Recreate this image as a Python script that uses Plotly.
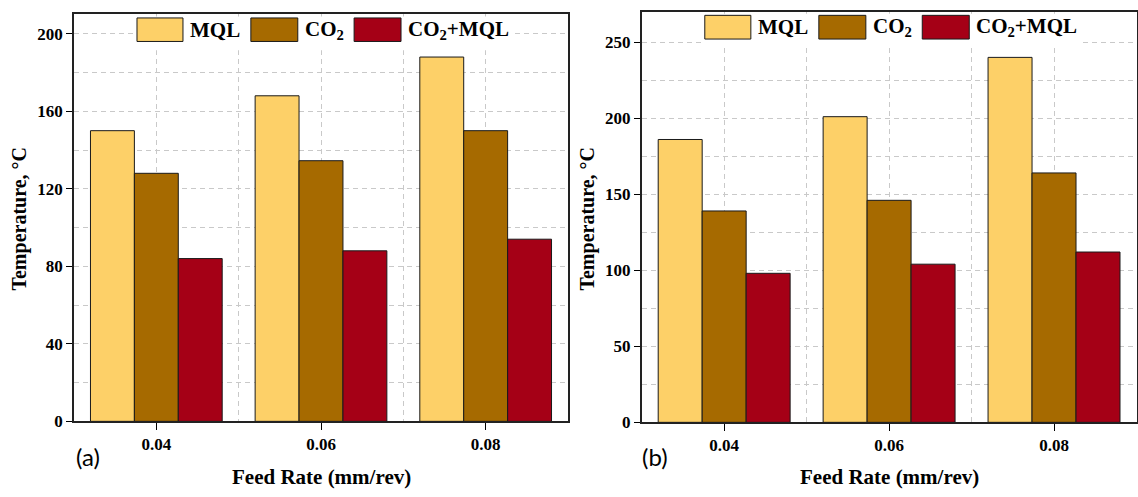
import plotly.graph_objects as go

# ---------------- data ----------------
feed_rates = ["0.04", "0.06", "0.08"]
series_names = ["MQL", "CO<sub>2</sub>", "CO<sub>2</sub>+MQL"]

a_mql = [150, 168, 188]
a_co2 = [128, 134.5, 150]
a_co2_mql = [84, 88, 94]

b_mql = [186, 201, 240]
b_co2 = [139, 146, 164]
b_co2_mql = [98, 104, 112]

panel_labels = ["(a)", "(b)"]
x_title = "Feed Rate (mm/rev)"
y_title = "Temperature, °C"

# ---------------- style ----------------
colors = ["#FDD068", "#A66A00", "#A50016"]
W, H = 1138, 497
SERIF = "Liberation Serif"
GRID = "#c9c9c9"
GRIDDASH = "5px,4px"

x_pos = list(range(len(feed_rates)))

fig = go.Figure()
panels = [
    ("x", "y", [a_mql, a_co2, a_co2_mql]),
    ("x2", "y2", [b_mql, b_co2, b_co2_mql]),
]
for xa, ya, series in panels:
    for vals, name, col in zip(series, series_names, colors):
        fig.add_trace(go.Bar(
            x=x_pos, y=vals, name=name, xaxis=xa, yaxis=ya,
            marker=dict(color=col, line=dict(color="#1a1a1a", width=1)),
            showlegend=False,
        ))

def px_x(v):
    return v / W

def px_y(v):
    return (H - v) / H

common_x = dict(
    range=[-0.5, 2.5], tickmode="array", tickvals=x_pos, ticktext=feed_rates,
    ticks="outside", ticklen=7, tickwidth=1.2, tickcolor="black",
    showline=True, linecolor="#222", linewidth=1.5, mirror=True,
    showgrid=True, gridcolor=GRID, griddash=GRIDDASH, gridwidth=1,
    minor=dict(dtick=0.5, tick0=0.5, showgrid=True, gridcolor=GRID,
               griddash=GRIDDASH, ticks=""),
    tickfont=dict(family=SERIF, size=17, color="black", weight="bold"),
    zeroline=False, fixedrange=True,
)
common_y = dict(
    ticks="outside", ticklen=6, tickwidth=1.2, tickcolor="black",
    showline=True, linecolor="#222", linewidth=1.5, mirror=True,
    showgrid=True, gridcolor=GRID, griddash=GRIDDASH, gridwidth=1,
    tickfont=dict(family=SERIF, size=17, color="black", weight="bold"),
    zeroline=False, fixedrange=True,
)

fig.update_layout(
    width=W, height=H,
    margin=dict(l=0, r=0, t=0, b=0),
    paper_bgcolor="white", plot_bgcolor="white",
    barmode="group", bargap=0.2, bargroupgap=0,
    xaxis=dict(common_x, domain=[px_x(74), px_x(568)], anchor="y"),
    yaxis=dict(common_y, domain=[px_y(430), px_y(14.7)], anchor="x",
               range=[0, 210], tick0=0, dtick=40,
               minor=dict(dtick=20, showgrid=True, gridcolor=GRID,
                          griddash=GRIDDASH, ticks="")),
    xaxis2=dict(common_x, domain=[px_x(641.7), px_x(1136.5)], anchor="y2"),
    yaxis2=dict(common_y, domain=[px_y(431), px_y(12)], anchor="x2",
                range=[0, 270], tick0=0, dtick=50,
                minor=dict(dtick=25, showgrid=True, gridcolor=GRID,
                           griddash=GRIDDASH, ticks="")),
    showlegend=False,
)

# ---------------- custom legends (large swatches) ----------------
shapes = []
annotations = []
sw_x = [(0.1275, 0.2206), (0.358, 0.453), (0.567, 0.662)]
txt_x = [0.231, 0.464, 0.672]
for xa, ya in [("x", "y"), ("x2", "y2")]:
    shapes.append(dict(type="rect", xref=f"{xa} domain", yref=f"{ya} domain",
                       x0=0.12, x1=0.885, y0=0.912, y1=0.995,
                       fillcolor="white", line=dict(width=0), layer="above"))
    for (x0, x1), tx, name, col in zip(sw_x, txt_x, series_names, colors):
        shapes.append(dict(type="rect", xref=f"{xa} domain", yref=f"{ya} domain",
                           x0=x0, x1=x1, y0=0.9335, y1=0.9913,
                           fillcolor=col, line=dict(color="#1a1a1a", width=1),
                           layer="above"))
        annotations.append(dict(xref=f"{xa} domain", yref=f"{ya} domain",
                                x=tx, y=0.962, text=f"<b>{name}</b>",
                                showarrow=False, xanchor="left", yanchor="middle",
                                font=dict(family=SERIF, size=21, color="black")))

# ---------------- axis titles & panel labels ----------------
for cx, yt_x, lab_x, lab in [(321, 20, 87.5, panel_labels[0]),
                              (889, 588, 655, panel_labels[1])]:
    annotations.append(dict(xref="paper", yref="paper", x=px_x(cx), y=px_y(487),
                            text=f"<b>{x_title}</b>", showarrow=False,
                            xanchor="center", yanchor="middle",
                            font=dict(family=SERIF, size=21, color="black")))
    annotations.append(dict(xref="paper", yref="paper", x=px_x(yt_x), y=px_y(223),
                            text=f"<b>{y_title}</b>", showarrow=False, textangle=-90,
                            xanchor="center", yanchor="middle",
                            font=dict(family=SERIF, size=20, color="black")))
    annotations.append(dict(xref="paper", yref="paper", x=px_x(lab_x), y=px_y(466),
                            text=lab, showarrow=False,
                            xanchor="center", yanchor="middle",
                            font=dict(family="Lato", size=24, color="black")))

fig.update_layout(shapes=shapes, annotations=annotations)

fig.write_html("out.html",
               config={"displayModeBar": False},
               post_script="document.body.style.margin='0';document.body.style.overflow='hidden';")
